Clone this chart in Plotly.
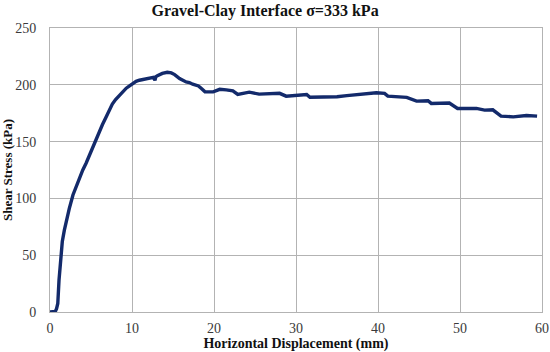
import plotly.graph_objects as go

# displacement (mm) vs shear stress (kPa)
disp = [0, 0.3, 0.65, 0.8, 0.95, 1.1, 1.3, 1.5, 1.75, 2.0, 2.35, 2.8, 3.2, 3.6,
        4.0, 4.4, 4.8, 5.2, 5.6, 6.0, 6.4, 6.8, 7.2, 7.6, 8.0, 8.5, 9.0, 9.3,
        9.7, 10.0, 10.5, 10.9, 11.5, 12.1, 12.6, 12.8, 12.9, 13.1, 13.7, 14.3,
        14.8, 15.2, 15.8, 16.6, 17.0, 17.4, 18.1, 18.5, 18.9, 19.9, 20.3, 20.7,
        21.5, 22.3, 22.9, 23.5, 24.3, 25.5, 27.0, 28.0, 28.8, 30.0, 31.3, 31.7,
        33.3, 35.0, 36.2, 38.0, 39.8, 40.8, 41.2, 43.5, 44.7, 46.1, 46.5, 48.7,
        49.7, 52.0, 53.0, 54.0, 55.0, 56.5, 58.1, 59.4]
stress = [0, 0, 0.5, 3, 7.5, 28, 50, 62, 72, 81, 91, 103, 111, 119,
          125, 131, 138, 145, 152, 159, 165, 171, 177, 183, 187, 191, 195, 197,
          199, 200.5, 203, 204, 205, 206, 206.5, 204, 207, 208, 210, 211,
          210.5, 209, 205.5, 202.5, 202, 200.5, 199, 196.5, 193.8, 193.8, 195, 196,
          195.5, 194.7, 191.5, 192.5, 193.5, 191.8, 192, 192.5, 190, 190.5, 191.5, 189,
          188.9, 189.5, 190.5, 191.5, 193, 192.4, 190, 188.9, 185.6, 186, 183.6, 184,
          179.2, 179.2, 177.7, 178, 172.4, 171.8, 173, 172.4]

font = "Liberation Serif, Times New Roman, serif"
tickfont = dict(family=font, size=14, color="#3a3a3a")

fig = go.Figure(go.Scatter(
    x=disp, y=stress, mode="lines",
    line=dict(color="#132a6b", width=3.4), showlegend=False))

fig.update_layout(
    width=550, height=352,
    margin=dict(l=50, r=8, t=28, b=40, autoexpand=False),
    paper_bgcolor="white", plot_bgcolor="white",
    font=dict(family=font, size=13, color="#222"),
    title=dict(text="<b>Gravel-Clay Interface σ=333 kPa</b>", x=0.482, xanchor="center",
               y=0.985, yanchor="top", font=dict(family=font, size=16, color="#111")),
)
fig.update_xaxes(
    range=[0, 60], dtick=10, showgrid=True, gridcolor="#b3b3b3", gridwidth=1,
    showline=True, linecolor="#b3b3b3", mirror=True, zeroline=False,
    ticks="", tickfont=tickfont, ticklabelstandoff=3, automargin=False,
    title=dict(text="<b>Horizontal Displacement (mm)</b>", standoff=0,
               font=dict(family=font, size=14, color="#111")))
fig.update_yaxes(
    range=[0, 250], dtick=50, showgrid=True, gridcolor="#b3b3b3", gridwidth=1,
    showline=True, linecolor="#b3b3b3", mirror=True, zeroline=False,
    ticks="", tickfont=tickfont, ticklabelstandoff=10, automargin=False,
    title=dict(text="<b>Shear Stress (kPa)</b>", standoff=0,
               font=dict(family=font, size=13, color="#111")))

# drop the page's default body margin so the figure sits at the window corner
fig.write_html("out.html", config={"displayModeBar": False},
               post_script="document.body.style.margin='0';")
